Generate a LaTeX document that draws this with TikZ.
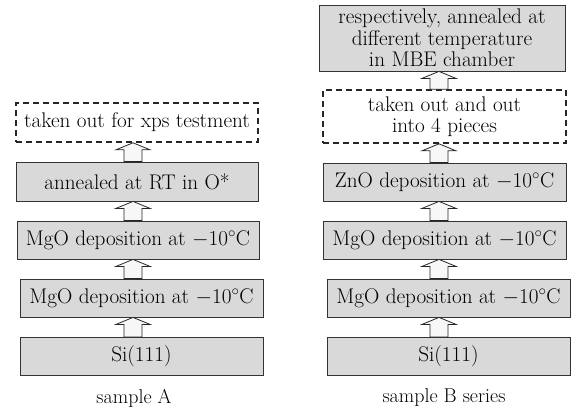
\RequirePackage{fix-cm}
\documentclass[tikz,border=0pt]{standalone}
\usepackage{amsmath}
\usepackage{tikz}
\usetikzlibrary{positioning, calc}
\newcommand{\layercolor}{gray!30}
\newcommand{\arrowcolor}{gray!6}
\newcommand{\degC}{$-10^{\circ}$C}
% block arrow from lower node #1 up to upper node #2, at x = #3
\newcommand{\liftarrow}[3]{%
  \draw [arrowbody] let \p1=(#1.north), \p2=(#2.south) in
    ({#3-9pt},\y1) -- ({#3+9pt},\y1) -- ({#3+9pt},\y2-7pt)
    -- ({#3+17pt},\y2-7pt) -- (#3,\y2) -- ({#3-17pt},\y2-7pt)
    -- ({#3-9pt},\y2-7pt) -- cycle;}

\begin{document}
\begin{tikzpicture}[
      % GLOBAL CFG
      x=1pt, y=-1pt,
      font=\fontsize{21.2}{21.5}\selectfont,
      % Styles
      layer/.style={% For process steps
        rectangle,
        draw=black!80,
        fill=\layercolor,
        thick,
        inner sep=0pt,
        align=center,
        minimum width=243pt,
        minimum height=38pt
      },
      outstep/.style={% For steps outside the chamber
        rectangle,
        draw=black!85,
        fill=white,
        line width=1.6pt,
        dash pattern=on 6pt off 4pt,
        inner sep=0pt,
        align=center,
        minimum width=243pt,
        minimum height=39pt
      },
      caption/.style={% Column labels
        font=\fontsize{20}{22}\selectfont
      },
      arrowbody/.style={% Hollow block arrows
        draw=black!85,
        fill=\arrowcolor,
        thick,
        line join=miter
      }
      ]
      \useasboundingbox (0,0) rectangle (571,407);

      % Sample A column
      \node [layer] (siA) at (141.5,356.5) {Si(111)};
      \node [layer] (mgoA1) at (141.5,298) {MgO deposition at \degC};
      \node [layer, minimum width=242pt] (mgoA2) at (138,240) {MgO deposition at \degC};
      \node [layer, minimum width=242pt, minimum height=39pt] (annA) at (137,181.5) {annealed at RT in O*};
      \node [outstep, minimum width=242pt] (outA) at (137,122.5) {taken out for xps testment};
      \node [caption] (labelA) at (134,398) {sample A};

      \liftarrow{siA}{mgoA1}{133pt}
      \liftarrow{mgoA1}{mgoA2}{133pt}
      \liftarrow{mgoA2}{annA}{133pt}
      \liftarrow{annA}{outA}{133pt}

      % Sample B column
      \node [layer] (siB) at (448.5,356.5) {Si(111)};
      \node [layer] (mgoB1) at (448.5,298) {MgO deposition at \degC};
      \node [layer] (mgoB2) at (444.5,240) {MgO deposition at \degC};
      \node [layer] (znoB) at (444.5,182) {ZnO deposition at \degC};
      \node [outstep, minimum height=53pt] (outB) at (444.5,116.5) {taken out and out\\into 4 pieces};
      \node [layer, minimum width=246pt, minimum height=66pt] (annB) at (442,38)
        {respectively, annealed at\\different temperature\\in MBE chamber};
      \node [caption] (labelB) at (444,398) {sample B series};

      \liftarrow{siB}{mgoB1}{439pt}
      \liftarrow{mgoB1}{mgoB2}{439pt}
      \liftarrow{mgoB2}{znoB}{439pt}
      \liftarrow{znoB}{outB}{439pt}
      \liftarrow{outB}{annB}{439pt}

    \end{tikzpicture}
\end{document}
